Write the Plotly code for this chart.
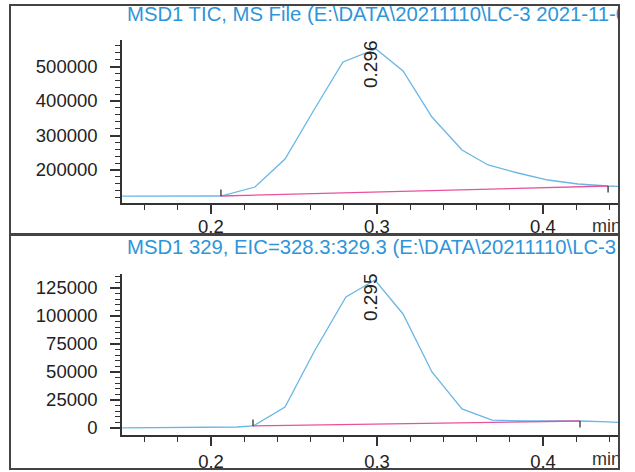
import plotly.graph_objects as go

# ---------------- data ----------------
tic_time = [0.1465, 0.188, 0.206, 0.2265, 0.2446, 0.262, 0.2795, 0.2994, 0.3157,
            0.3331, 0.3512, 0.3669, 0.3849, 0.4030, 0.4211, 0.4392, 0.4452]
tic_value = [124000, 124300, 124600, 150700, 231900, 374000, 513000, 550700, 487000,
             353600, 258000, 214500, 191300, 171000, 159400, 153600, 152500]
tic_base_time = [0.206, 0.4392]
tic_base_value = [124600, 153600]
tic_peak_time = 0.2994
tic_peak_value = 550700
tic_peak_label = "0.296"
tic_title = "MSD1 TIC, MS File (E:\\DATA\\20211110\\LC-3 2021-11-06"

eic_time = [0.1465, 0.205, 0.2157, 0.2253, 0.2446, 0.262, 0.2813, 0.2988, 0.3157,
            0.3331, 0.3512, 0.3693, 0.3873, 0.4054, 0.4223, 0.4392, 0.4452]
eic_value = [200, 300, 900, 1800, 18750, 67900, 117000, 132100, 101800,
             50000, 17000, 7100, 6250, 6250, 6250, 5400, 5000]
eic_base_time = [0.2253, 0.4223]
eic_base_value = [1800, 6250]
eic_peak_time = 0.2988
eic_peak_value = 132100
eic_peak_label = "0.295"
eic_title = "MSD1 329, EIC=328.3:329.3 (E:\\DATA\\20211110\\LC-3 2021"

x_tickvals = [0.2, 0.3, 0.4]
x_ticktext = ["0.2", "0.3", "0.4"]
tic_yticks = [200000, 300000, 400000, 500000]
tic_yminor = list(range(120000, 580000, 20000))
eic_yticks = [0, 25000, 50000, 75000, 100000, 125000]
eic_yminor = list(range(0, 140000, 5000))

# ---------------- layout helpers ----------------
W, H = 635, 472
def px(x):
    return x / W
def py(y):
    return 1 - y / H

FONT = "Liberation Sans, Arial, sans-serif"
AX = "#333333"
TRACE = "#6ab6e4"
TITLE_BLUE = "#2f95d8"
PINK = "#e8529c"

fig = go.Figure()

# traces
fig.add_trace(go.Scatter(x=tic_time, y=tic_value, mode="lines",
                         line=dict(color=TRACE, width=1.3), xaxis="x", yaxis="y"))
fig.add_trace(go.Scatter(x=tic_base_time, y=tic_base_value, mode="lines",
                         line=dict(color=PINK, width=1.3), xaxis="x", yaxis="y"))
fig.add_trace(go.Scatter(x=eic_time, y=eic_value, mode="lines",
                         line=dict(color=TRACE, width=1.3), xaxis="x2", yaxis="y2"))
fig.add_trace(go.Scatter(x=eic_base_time, y=eic_base_value, mode="lines",
                         line=dict(color=PINK, width=1.3), xaxis="x2", yaxis="y2"))

# titles & "min" labels, clipped at panel border via helper axes
fig.add_trace(go.Scatter(x=[127, 592], y=[16, 227], text=[tic_title, "min"],
                         mode="text", textposition="middle right",
                         textfont=dict(family=FONT, size=[20.3, 18], color=[TITLE_BLUE, AX]),
                         cliponaxis=True, xaxis="x3", yaxis="y3"))
fig.add_trace(go.Scatter(x=[127, 592], y=[249, 460], text=[eic_title, "min"],
                         mode="text", textposition="middle right",
                         textfont=dict(family=FONT, size=[20.3, 18], color=[TITLE_BLUE, AX]),
                         cliponaxis=True, xaxis="x3", yaxis="y3"))

common_x = dict(range=[0.14639, 0.44518], showline=True, linecolor=AX, linewidth=1.5,
                ticks="outside", ticklen=9, tickwidth=1.5, tickcolor=AX,
                tickvals=x_tickvals, ticktext=x_ticktext,
                minor=dict(dtick=0.02, tick0=0, ticks="outside", ticklen=5,
                           tickcolor=AX, tickwidth=1.2),
                showgrid=False, zeroline=False, automargin=False,
                tickfont=dict(family=FONT, size=18.5, color="#222"))
common_y = dict(showline=True, linecolor=AX, linewidth=1.5,
                ticks="outside", ticklen=10, tickwidth=1.5, tickcolor=AX,
                tickformat="d", showgrid=False, zeroline=False, automargin=False,
                tickfont=dict(family=FONT, size=18.5, color="#222"),
                ticklabelstandoff=9)

fig.update_layout(
    template="none",
    width=W, height=H, margin=dict(l=0, r=0, t=0, b=0, autoexpand=False),
    paper_bgcolor="white", plot_bgcolor="rgba(0,0,0,0)", showlegend=False,
    xaxis=dict(domain=[px(122), px(618)], anchor="y", showticklabels=False, **common_x),
    yaxis=dict(domain=[py(203), py(40)], anchor="x",
               range=[104350, 576800], tickvals=tic_yticks,
               minor=dict(tickvals=tic_yminor, ticks="outside", ticklen=5,
                          tickcolor=AX, tickwidth=1.2), **common_y),
    xaxis2=dict(domain=[px(122), px(618)], anchor="y2", **common_x),
    yaxis2=dict(domain=[py(435), py(274)], anchor="x2",
                range=[-6250, 137500], tickvals=eic_yticks,
                minor=dict(tickvals=eic_yminor, ticks="outside", ticklen=5,
                           tickcolor=AX, tickwidth=1.2), **common_y),
    xaxis3=dict(domain=[px(10), px(618)], range=[10, 618], visible=False,
                fixedrange=True, automargin=False),
    yaxis3=dict(domain=[0, 1], range=[472, 0], visible=False,
                fixedrange=True, automargin=False),
)

# top-panel x tick labels, placed through the x axis scale
for tv, tt in zip(x_tickvals, x_ticktext):
    fig.add_annotation(x=tv, y=py(227), xref="x", yref="paper", text=tt,
                       showarrow=False, xanchor="center", yanchor="middle",
                       font=dict(family=FONT, size=18.5, color="#222"))

# panel borders
for (y0, y1) in [(5, 234), (235, 469)]:
    fig.add_shape(type="rect", xref="paper", yref="paper",
                  x0=px(10), x1=px(619), y0=py(y1), y1=py(y0),
                  line=dict(color="#444", width=2))

# peak labels
fig.add_annotation(x=tic_peak_time, y=tic_peak_value, xref="x", yref="y",
                   text=tic_peak_label, textangle=-90, showarrow=False,
                   xanchor="center", yanchor="middle", xshift=-6, yshift=-15,
                   font=dict(family=FONT, size=19, color="#222"))
fig.add_annotation(x=eic_peak_time, y=eic_peak_value, xref="x2", yref="y2",
                   text=eic_peak_label, textangle=-90, showarrow=False,
                   xanchor="center", yanchor="middle", xshift=-5, yshift=-17,
                   font=dict(family=FONT, size=19, color="#222"))

# integration start/end tick marks
for (xr, yr, bt, bv) in [("x", "y", tic_base_time, tic_base_value),
                         ("x2", "y2", eic_base_time, eic_base_value)]:
    for i, ay in [(0, -8), (1, 8)]:
        fig.add_annotation(x=bt[i], y=bv[i], xref=xr, yref=yr, text="",
                           showarrow=True, arrowhead=0, arrowwidth=1.3,
                           arrowcolor="#333", ax=0, ay=ay, standoff=0)

fig.write_html("out.html", config={"displayModeBar": False},
               post_script="document.body.style.margin='0';document.body.style.overflow='hidden';")
